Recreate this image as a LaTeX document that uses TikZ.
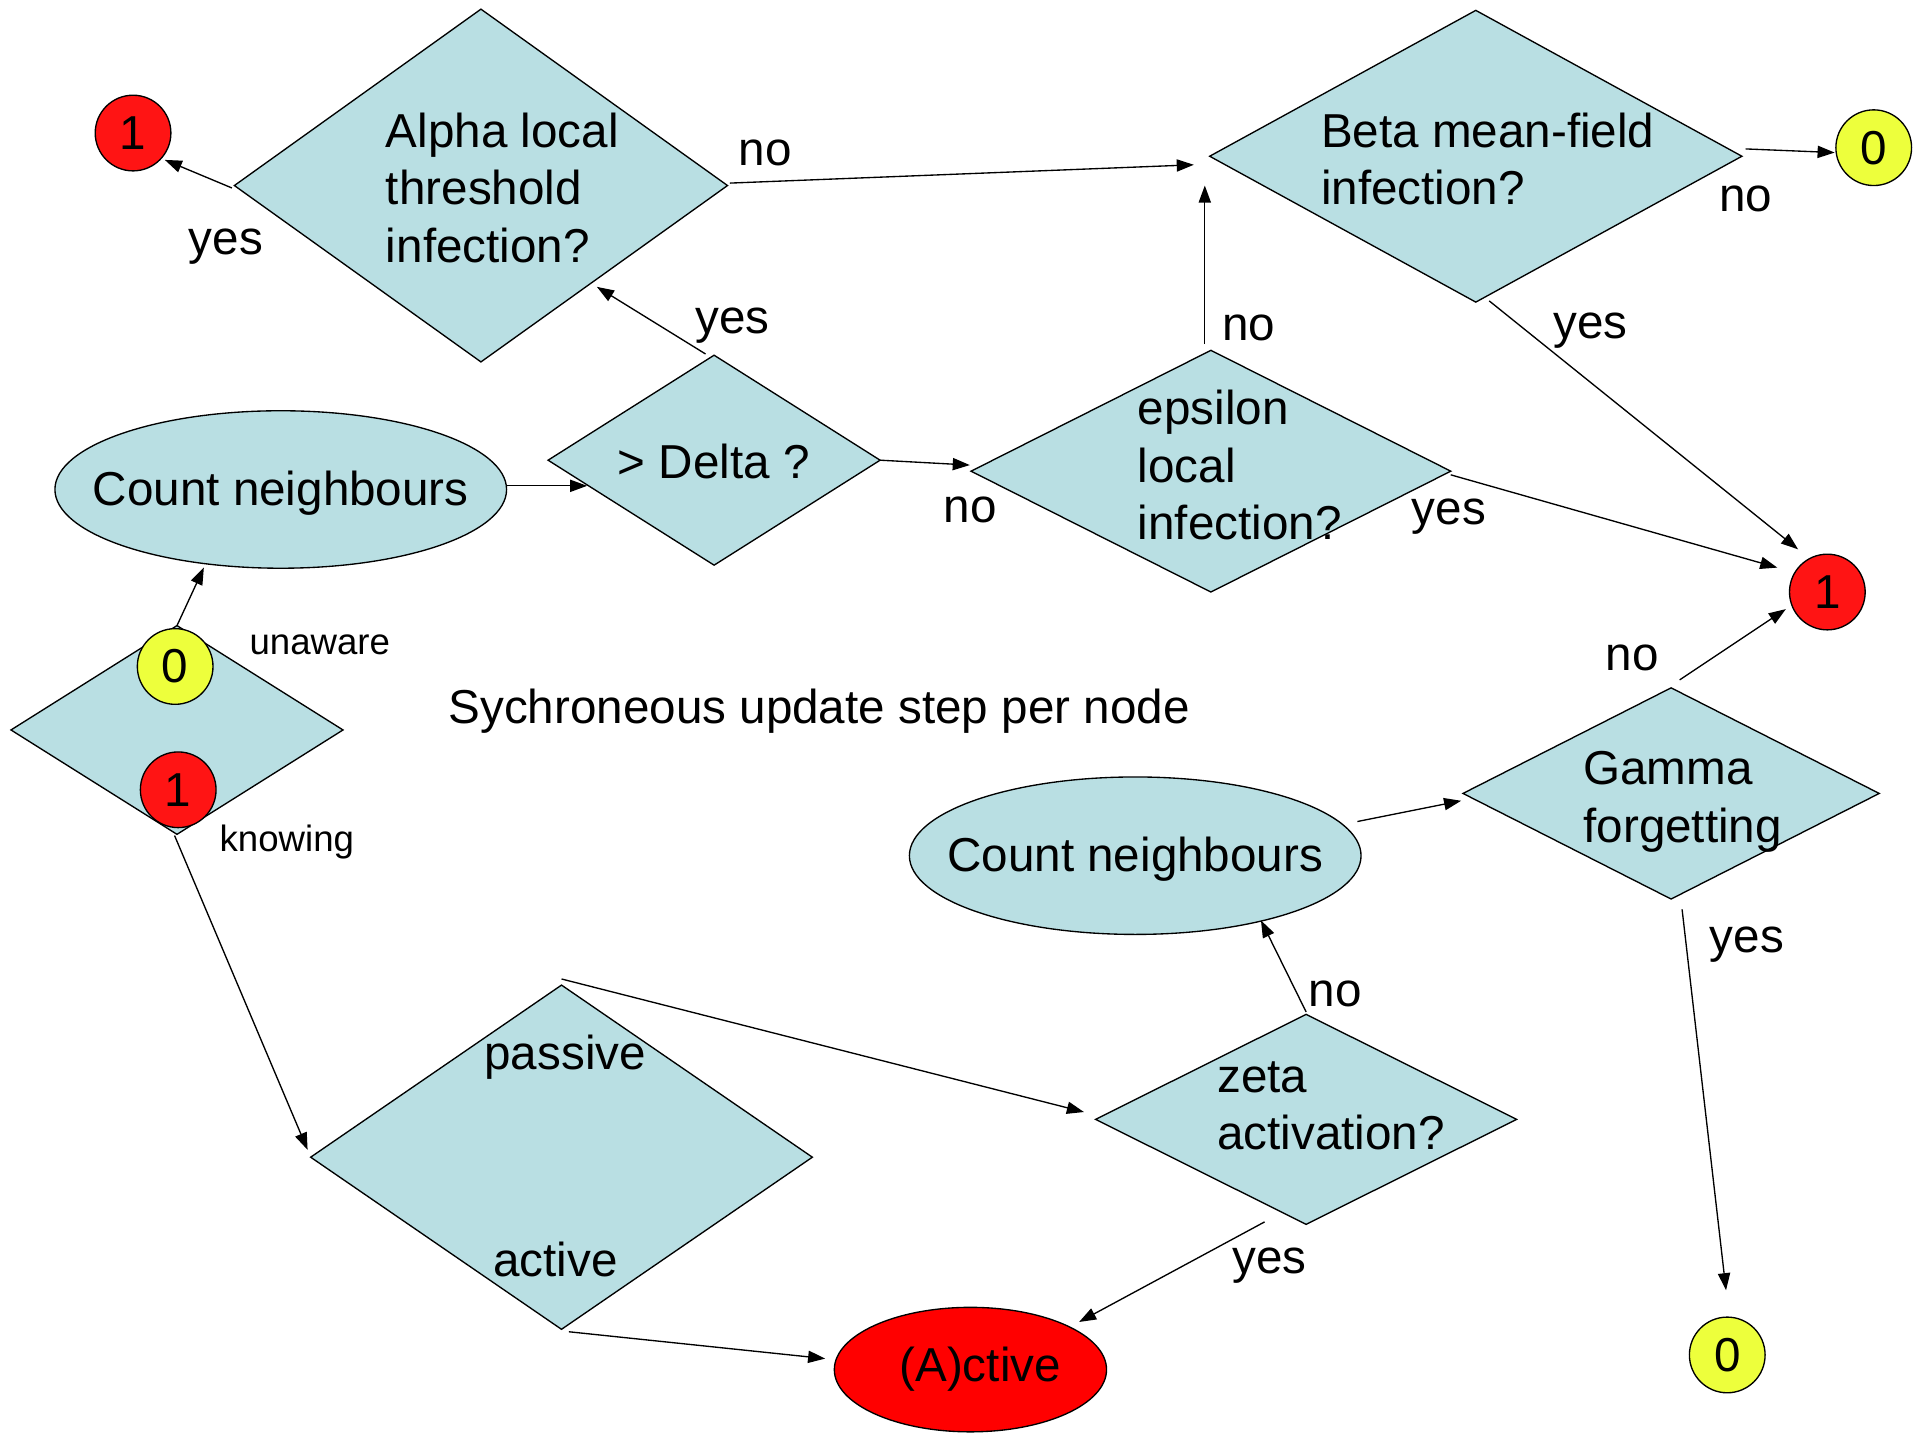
\documentclass[tikz,border=0pt]{standalone}
\usepackage{fontspec}
\setmainfont{Liberation Sans}
\usetikzlibrary{shapes.geometric,arrows.meta,calc}
\definecolor{boxblue}{RGB}{185,223,227}
\definecolor{nodered}{RGB}{255,20,20}
\definecolor{actred}{RGB}{255,0,0}
\definecolor{nodeyellow}{RGB}{237,255,60}
\newcommand\fsbig{\fontsize{39}{47}\selectfont}
\newcommand\fssmall{\fontsize{30}{36}\selectfont}
\begin{document}
\begin{tikzpicture}[x=1pt,y=-1pt,
  dia/.style={diamond,draw,fill=boxblue,inner sep=0pt,outer sep=0pt,line width=1.1pt},
  ell/.style={ellipse,draw,fill=boxblue,inner sep=0pt,outer sep=0pt,line width=1.1pt},
  circ/.style={circle,draw,inner sep=0pt,outer sep=0pt,minimum size=62pt,line width=1.1pt,font=\fsbig},
  txt/.style={inner sep=0pt,font=\fsbig,align=left},
  lbl/.style={inner sep=0pt,font=\fsbig},
  small/.style={inner sep=0pt,font=\fssmall},
  arr/.style={-{Triangle[length=14pt,width=10pt]},line width=1.1pt}]
\useasboundingbox (0,0) rectangle (1568,1174);

% diamonds
\node[dia,minimum width=404pt,minimum height=289pt] (alpha) at (394,152) {};
\node[dia,minimum width=436pt,minimum height=239pt] (beta) at (1209,128) {};
\node[dia,minimum width=272pt,minimum height=172pt] (delta) at (585,377) {};
\node[dia,minimum width=393pt,minimum height=198pt] (eps) at (992,386) {};
\node[dia,minimum width=272pt,minimum height=171pt] (state) at (145,598) {};
\node[dia,minimum width=411pt,minimum height=282pt] (pa) at (460,948) {};
\node[dia,minimum width=345pt,minimum height=172pt] (zeta) at (1070,917) {};
\node[dia,minimum width=341pt,minimum height=173pt] (gamma) at (1369,650) {};

% diamond texts
\node[txt,anchor=west] (alphatext) at (316,154) {Alpha local\\threshold\\infection?};
\node[txt,anchor=west] (betatext) at (1082,130) {Beta mean-field\\infection?};
\node[txt,anchor=west] (deltatext) at (506,378) {> Delta ?};
\node[txt,anchor=west] (epstext) at (932,381) {epsilon\\local\\infection?};
\node[txt,anchor=west] (zetatext) at (997,906) {zeta\\activation?};
\node[txt,anchor=west] (gammatext) at (1297,657) {Gamma\\forgetting};
\node[lbl] (passivetext) at (463,866) {passive};
\node[lbl] (activetext) at (455,1032) {active};

% ellipses
\node[ell,minimum width=370pt,minimum height=129pt,
  label={[lbl,yshift=-3pt]center:Count neighbours}] (count1) at (230,401) {};
\node[ell,minimum width=370pt,minimum height=129pt,
  label={[lbl,yshift=-3pt]center:Count neighbours}] (count2) at (930,701) {};
\node[ell,fill=actred,minimum width=223pt,minimum height=102pt,
  label={[lbl,xshift=8pt,yshift=0pt]center:(A)ctive}] (active) at (795,1122) {};

% circles
\node[circ,fill=nodered] (one1a) at (109,109) {1};
\node[circ,fill=nodeyellow] (zero0a) at (1535,121) {0};
\node[circ,fill=nodered] (one1b) at (1497,485) {1};
\node[circ,fill=nodeyellow] (zero0b) at (1415,1110) {0};
\node[circ,fill=nodeyellow] (st0) at (143.5,546) {0};
\node[circ,fill=nodered] (st1) at (146,647) {1};

% texts
\node[small] (unaware) at (262,528) {unaware};
\node[small] (knowing) at (235,690) {knowing};
\node[lbl] (title) at (671,583) {Sychroneous update step per node};

% connectors
\draw[arr] ([shift={(-2,2)}]alpha.west) -- ([shift={(26,22)}]one1a.center);
\draw[arr] ([shift={(2,-2)}]alpha.east) -- ([shift={(-13,7)}]beta.west);
\draw[arr] ([shift={(-7,-1)}]delta.north) -- ([shift={(95,83)}]alpha.center);
\draw[arr] ([shift={(0,-3)}]count1.east) -- ([shift={(-104,21)}]delta.center);
\draw[arr] (delta.east) -- ([shift={(-1,-5)}]eps.west);
\draw[arr] ([shift={(-5,-5)}]eps.north) -- ([shift={(-222,24)}]beta.center);
\draw[arr] ([shift={(0,3)}]eps.east) -- ([shift={(-41,-20)}]one1b.center);
\draw[arr] ([shift={(11,-1)}]beta.south) -- ([shift={(-24,-35)}]one1b.center);
\draw[arr] ([shift={(3,-6)}]beta.east) -- ([shift={(-32,4)}]zero0a.center);
\draw[arr] (state.north) -- ([shift={(-63,64)}]count1.center);
\draw[arr] ([shift={(-2,1)}]state.south) -- ([shift={(-208,-6)}]pa.center);
\draw[arr] ([shift={(0,-5)}]pa.north) -- ([shift={(-182,-6)}]zeta.center);
\draw[arr] ([shift={(6,2)}]pa.south) -- ([shift={(-119,-9)}]active.center);
\draw[arr] ([shift={(0,-2)}]zeta.north) -- ([shift={(103,53)}]count2.center);
\draw[arr] ([shift={(-34,84)}]zeta.center) -- ([shift={(89,-39)}]active.center);
\draw[arr] ([shift={(182,-28)}]count2.center) -- ([shift={(-172,6)}]gamma.center);
\draw[arr] ([shift={(7,-93)}]gamma.center) -- ([shift={(-34,14)}]one1b.center);
\draw[arr] ([shift={(9,95)}]gamma.center) -- ([shift={(-1,-53)}]zero0b.center);

% connector labels
\node[lbl] (l1) at (185,202) {yes};
\node[lbl] (l2) at (627,125) {no};
\node[lbl] (l3) at (600,267) {yes};
\node[lbl] (l4) at (795,418) {no};
\node[lbl] (l5) at (1023,269) {no};
\node[lbl] (l6) at (1187,423) {yes};
\node[lbl] (l7) at (1303,271) {yes};
\node[lbl] (l8) at (1430,163) {no};
\node[lbl] (l9) at (1337,539) {no};
\node[lbl] (l10) at (1431,774) {yes};
\node[lbl] (l11) at (1094,814) {no};
\node[lbl] (l12) at (1040,1037) {yes};
\end{tikzpicture}
\end{document}
